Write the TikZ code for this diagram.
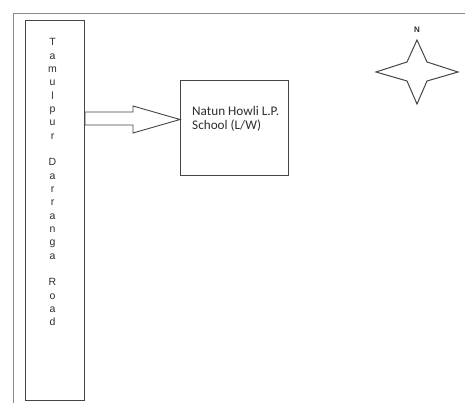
\documentclass[tikz,border=0pt]{standalone}
\usepackage{fontspec}
\newfontfamily\roadfont{Liberation Sans}
\newfontfamily\schoolfont{Carlito}
\definecolor{ink}{HTML}{2E2E2E}
\definecolor{edge}{HTML}{454545}
\definecolor{framec}{HTML}{8A8A8A}
\tikzset{
  frameline/.style={draw=framec, line width=1.4pt},
  boxshape/.style={draw=edge, line width=1pt, inner sep=0pt, anchor=north west},
  roadtxt/.style={font=\roadfont\fontsize{10.5}{10.5}\selectfont, text=ink, inner sep=0pt, anchor=base},
  schooltxt/.style={font=\schoolfont\fontsize{13.2}{14}\selectfont, text=ink, inner sep=0pt, anchor=west, align=left},
  arrowshape/.style={draw=edge, line width=0.9pt, fill=white},
  starshape/.style={draw=edge, line width=1pt, fill=white},
}
\begin{document}
\begin{tikzpicture}[x=1pt,y=-1pt]
\useasboundingbox (0,0) rectangle (465,403);
\fill[white] (0,0) rectangle (465,403);
\draw[frameline] (466,13.5) -- (13.5,13.5) -- (13.5,404);
\node[boxshape, minimum width=59pt, minimum height=380pt] (road) at (25,20) {};
\foreach \ch [count=\i from 0] in {T,a,m,u,l,p,u,r,{},D,a,r,r,a,n,g,a,{},R,o,a,d} {
  \node[roadtxt] (l\i) at (52.5,{46+13.33*\i}) {\ch};
}
\node[boxshape, minimum width=108pt, minimum height=95pt] (school) at (180,80) {};
\node[schooltxt] (schooltext) at (192,119) {Natun Howli L.P.\\School (L/W)};
\draw[arrowshape] (road.east |- 0,112) -- (133,112) -- (133,106) -- (school.west |- 0,119.5)
  -- (133,133) -- (133,125) -- (road.east |- 0,125) -- cycle;
\coordinate (c) at (417,72);
\node[font=\roadfont\bfseries\fontsize{8}{8}\selectfont, text=ink, inner sep=0pt] (north) at (417,30) {N};
\draw[starshape] (417,40) -- (427,62) -- (458,72) -- (427,81) -- (417,104) -- (407,81) -- (376,72) -- (407,62) -- cycle;
\end{tikzpicture}
\end{document}
